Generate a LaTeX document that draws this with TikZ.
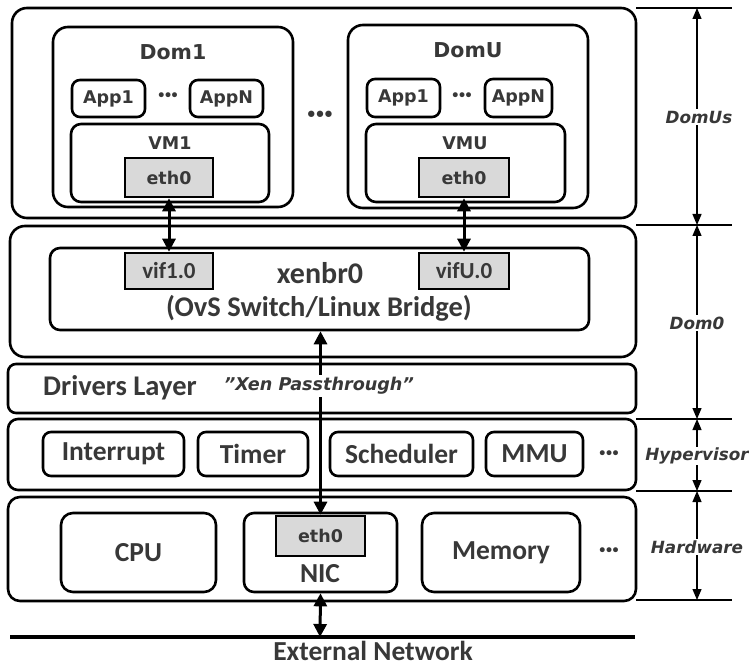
\documentclass[tikz,border=0pt]{standalone}
\usepackage{fontspec}
\setmainfont{DejaVu Sans}
\newfontfamily\cfont{Carlito}
\newfontfamily\dvfont{DejaVu Sans}
\usetikzlibrary{arrows.meta,fit}
\definecolor{txt}{HTML}{383838}
\definecolor{gfill}{HTML}{D9D9D9}
\newcommand{\mydots}[1]{\dvfont\fontsize{#1}{#1}\selectfont •\kern-0.2em•\kern-0.2em•}
\begin{document}
\begin{tikzpicture}[x=1pt,y=-1pt,
  box/.style={draw=black, line width=2.6pt, rounded corners=#1, inner sep=0pt},
  box/.default=10pt,
  gbox/.style={draw=black, line width=2.6pt, fill=gfill, inner sep=0pt},
  lab/.style={text=txt, font=\bfseries\fontsize{17.5}{17.5}\selectfont, inner sep=0pt},
  big/.style={text=txt, font=\bfseries\fontsize{20.5}{20.5}\selectfont, inner sep=0pt},
  clab/.style={text=txt, font=\cfont\bfseries\fontsize{27.5}{27.5}\selectfont, inner sep=0pt},
  vlab/.style={text=txt, font=\cfont\bfseries\fontsize{23}{23}\selectfont, inner sep=0pt},
  dlab/.style={text=txt, font=\bfseries\itshape\fontsize{16.8}{16.8}\selectfont, fill=white, inner sep=1.5pt},
  dots/.style={text=txt, inner sep=0pt},
  arr/.style={line width=3pt, {Triangle[length=13pt,width=13pt]}-{Triangle[length=13pt,width=13pt]}},
  dim/.style={line width=1.2pt, {Triangle[length=11pt,width=9pt]}-{Triangle[length=11pt,width=9pt]}},
  tick/.style={line width=1.2pt}
]
\useasboundingbox (0,0) rectangle (749,668);

% ---------- DomUs ----------
\node[box=15pt, fit={(12,8) (636,218)}] (domus) {};
\node[box=15pt, fit={(53,27) (293,207)}] (dom1) {};
\node[big] (dom1t) at (173,52) {Dom1};
\node[box=8pt, fit={(72,80) (145,117)}] (app1a) {};
\node[lab] at (app1a.center) (app1at) {App1};
\node[dots] (dotsa) at (168,97) {\mydots{17}};
\node[box=8pt, fit={(190,80) (263,117)}] (appna) {};
\node[lab] at (appna.center) (appnat) {AppN};
\node[box=10pt, fit={(71,124) (269,202)}] (vm1) {};
\node[lab] (vm1t) at (170,143) {VM1};
\node[gbox, fit={(125,158) (213,197)}] (etha) {};
\node[lab] at (etha.center) (ethat) {eth0};

\node[dots] (dotsm) at (320,117) {\mydots{22}};

\node[box=15pt, fit={(348,25) (588,208)}] (domu) {};
\node[big] (domut) at (468,50) {DomU};
\node[box=8pt, fit={(367,79) (440,117)}] (app1b) {};
\node[lab] at (app1b.center) (app1bt) {App1};
\node[dots] (dotsb) at (462,97) {\mydots{17}};
\node[box=8pt, fit={(485,79) (552,117)}] (appnb) {};
\node[lab] at (appnb.center) (appnbt) {AppN};
\node[box=10pt, fit={(366,124) (565,202)}] (vmu) {};
\node[lab] (vmut) at (465,143) {VMU};
\node[gbox, fit={(419,158) (509,197)}] (ethb) {};
\node[lab] at (ethb.center) (ethbt) {eth0};

% ---------- Dom0 ----------
\node[box=15pt, fit={(10,226) (636,357)}] (dom0) {};
\node[box=10pt, fit={(50,248) (589,330)}] (xen) {};
\node[gbox, fit={(125,253) (213,289)}] (vif1) {};
\node[vlab] at (vif1.center) (vif1t) {vif1.0};
\node[gbox, fit={(419,253) (509,289)}] (vifu) {};
\node[vlab] at (vifu.center) (vifut) {vifU.0};
\node[clab, font=\cfont\bfseries\fontsize{30}{30}\selectfont] (xent) at (320,273) {xenbr0};
\node[clab, font=\cfont\bfseries\fontsize{28.5}{28.5}\selectfont] (ovst) at (319,308) {(OvS Switch/Linux Bridge)};

% ---------- Drivers ----------
\node[box=8pt, fit={(8,364) (636,413)}] (drv) {};
\node[clab, font=\cfont\bfseries\fontsize{28.5}{28.5}\selectfont] (drvt) at (120,388) {Drivers Layer};

% ---------- Hypervisor ----------
\node[box=10pt, fit={(8,419) (636,490)}] (hyp) {};
\node[box=8pt, fit={(43,432) (184,476)}] (intr) {};
\node[clab] at (intr.center) (intrt) {Interrupt};
\node[box=8pt, fit={(198,432) (308,476)}] (timer) {};
\node[clab] at (timer.center) (timert) {Timer};
\node[box=8pt, fit={(330,432) (473,476)}] (sched) {};
\node[clab] at (sched.center) (schedt) {Scheduler};
\node[box=8pt, fit={(486,432) (583,476)}] (mmu) {};
\node[clab] at (mmu.center) (mmut) {MMU};
\node[dots] (dotsh) at (609,455) {\mydots{17}};

% ---------- Hardware ----------
\node[box=12pt, fit={(8,497) (636,601)}] (hw) {};
\node[box=12pt, fit={(61,513) (216,592)}] (cpu) {};
\node[clab] at (cpu.center) (cput) {CPU};
\node[box=10pt, fit={(244,513) (397,592)}] (nic) {};
\node[gbox, fit={(276,516) (365,556)}] (ethc) {};
\node[lab] at (ethc.center) (ethct) {eth0};
\node[clab] (nict) at (320,574) {NIC};
\node[box=12pt, fit={(422,513) (580,592)}] (mem) {};
\node[clab] at (mem.center) (memt) {Memory};
\node[dots] (dotsw) at (609,552) {\mydots{17}};

% ---------- External network ----------
\coordinate (extl) at (10,637);
\coordinate (extr) at (635,637);
\coordinate (extm) at (320,637);
\draw[line width=3.2pt] (extl) -- (extr);
\node[clab] (extt) at (373,651) {External Network};

% ---------- Arrows ----------
\draw[arr] (etha.south) -- (vif1.north);
\draw[arr] (ethb.south) -- (vifu.north);
\draw[arr] (xen.south -| ethc.north) -- (ethc.north);
\draw[arr] (nic.south) -- (extm);
\node[dlab, font=\bfseries\itshape\fontsize{17.6}{17.6}\selectfont, inner sep=2pt] (pass) at (319,386) {"Xen Passthrough"};

% ---------- Dimension lines ----------
\coordinate (t0) at (697,8);
\coordinate (t1) at (697,225);
\coordinate (t2) at (697,419);
\coordinate (t3) at (697,491);
\coordinate (t4) at (697,600);
\foreach \y/\n in {8/a,225/b,419/c,491/d,600/e}{
  \coordinate (l\n) at (636,\y);
  \coordinate (r\n) at (732,\y);
  \draw[tick] (l\n) -- (r\n);
}
\draw[dim] (t0) -- (t1);
\draw[dim] (t1) -- (t2);
\draw[dim] (t2) -- (t3);
\draw[dim] (t3) -- (t4);
\node[dlab] (domusl) at (699,117) {DomUs};
\node[dlab] (dom0l) at (697,323) {Dom0};
\node[dlab, inner sep=0.5pt] (hypl) at (697,456) {Hypervisor};
\node[dlab] (hwl) at (697,547) {Hardware};
\end{tikzpicture}
\end{document}
